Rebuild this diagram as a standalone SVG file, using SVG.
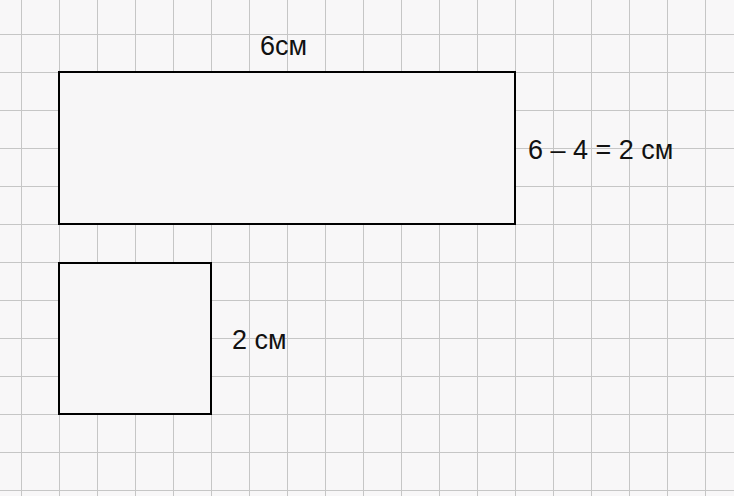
<svg xmlns="http://www.w3.org/2000/svg" width="734" height="496" viewBox="0 0 734 496">
<defs>
<pattern id="grid" x="21" y="-4" width="38" height="38" patternUnits="userSpaceOnUse">
<path d="M0 0V38M0 0H38" stroke="#c6c6c6" stroke-width="2" fill="none"/>
</pattern>
<style>.s{fill:#f7f6f7;stroke:#000;stroke-width:2}.t{font-family:"Liberation Sans",Arial,sans-serif;font-size:27px;fill:#111}</style>
</defs>
<rect width="734" height="496" fill="#f8f7f8"/>
<rect width="734" height="496" fill="url(#grid)"/>
<g id="rect1"><rect class="s" x="59" y="72" width="456" height="152"/></g>
<g id="rect2"><rect class="s" x="59" y="263" width="152" height="151"/></g>
<g id="labels">
<text class="t" x="260" y="55">6см</text>
<text class="t" x="528" y="159">6 – 4 = 2 см</text>
<text class="t" x="232" y="349">2 см</text>
</g>
<g id="connectors"/>
</svg>
